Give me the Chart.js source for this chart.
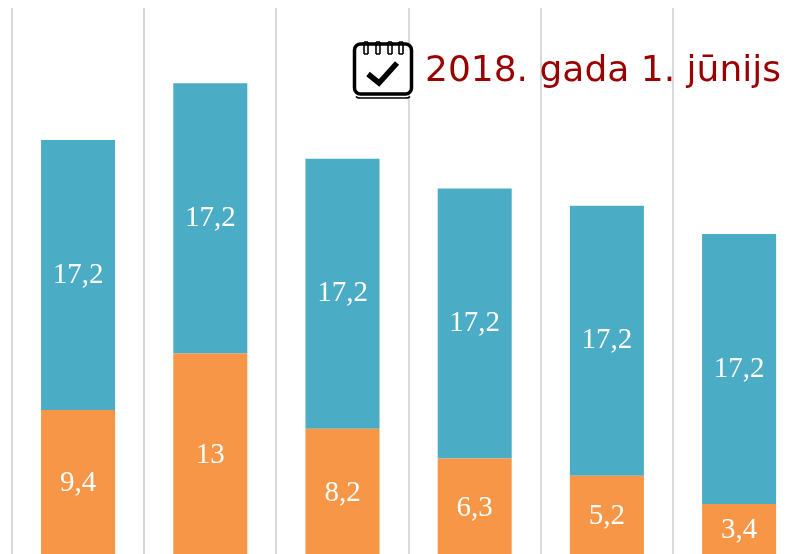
<!DOCTYPE html>
<html lang="lv">
<head>
<meta charset="utf-8">
<title>2018. gada 1. jūnijs</title>
<script src="https://cdn.jsdelivr.net/npm/chart.js@4"></script>
<style>
html,body{margin:0;padding:0;background:#fff;width:796px;height:554px;overflow:hidden}
#wrap{position:relative;width:796px;height:554px;overflow:hidden}
canvas{position:absolute;left:0;top:0}
#title{position:absolute;left:425px;top:47px;font:36px "DejaVu Sans",sans-serif;color:#990000;white-space:nowrap;line-height:44px}
#icon{position:absolute;left:352px;top:39px}
</style>
</head>
<body>
<div id="wrap">
<canvas id="c" width="820" height="570"></canvas>
<svg id="icon" width="62" height="61" viewBox="0 0 62 61">
  <rect x="2.5" y="5" width="57" height="50" rx="6" fill="#fff" stroke="#000" stroke-width="3.5"/>
  <path d="M4 57.5 Q5 59 9 59 H53 Q57 59 58 57.5" fill="none" stroke="#000" stroke-width="1.5"/>
  <g stroke="#000" stroke-width="1.6" fill="none">
    <path d="M12 3V15M16 3V15M12 3H16M12 15H16"/>
    <path d="M24 3V15M28 3V15M24 3H28M24 15H28"/>
    <path d="M36 3V15M40 3V15M36 3H40M36 15H40"/>
    <path d="M47 3V15M51 3V15M47 3H51M47 15H51"/>
  </g>
  <path d="M16 35 L27 44 L45 24" fill="none" stroke="#000" stroke-width="5.5" stroke-linejoin="miter"/>
</svg>
<div id="title">2018. gada 1. jūnijs</div>
</div>
<script>
const categories = ['', '', '', '', '', ''];
const orangeValues = [9.4, 13, 8.2, 6.3, 5.2, 3.4];
const blueValues = [17.2, 17.2, 17.2, 17.2, 17.2, 17.2];

const barLabels = {
  id: 'barLabels',
  afterDatasetsDraw(chart) {
    const ctx = chart.ctx;
    ctx.save();
    ctx.font = '29px "Liberation Serif", serif';
    ctx.fillStyle = '#ffffff';
    ctx.textAlign = 'center';
    ctx.textBaseline = 'middle';
    chart.data.datasets.forEach((ds, i) => {
      chart.getDatasetMeta(i).data.forEach((bar, j) => {
        const p = bar.getProps(['x', 'y', 'base'], true);
        ctx.fillText(String(ds.data[j]).replace('.', ','), p.x, (p.y + p.base) / 2);
      });
    });
    ctx.restore();
  }
};

new Chart(document.getElementById('c'), {
  type: 'bar',
  data: {
    labels: categories,
    datasets: [
      { label: 'Orange', data: orangeValues, backgroundColor: '#f79646', stack: 's' },
      { label: 'Blue', data: blueValues, backgroundColor: '#4bacc6', stack: 's' }
    ]
  },
  options: {
    responsive: false,
    animation: false,
    layout: { padding: { left: 12, right: 14.8, top: 8, bottom: 12.5 } },
    plugins: { legend: { display: false }, title: { display: false }, tooltip: { enabled: false } },
    datasets: { bar: { categoryPercentage: 1, barPercentage: 0.56 } },
    scales: {
      x: {
        stacked: true,
        ticks: { display: false },
        border: { display: false },
        grid: { color: '#d9d9d9', lineWidth: 2, drawTicks: false }
      },
      y: {
        stacked: true,
        display: false,
        min: 0,
        max: 35
      }
    }
  },
  plugins: [barLabels]
});
</script>
</body>
</html>
